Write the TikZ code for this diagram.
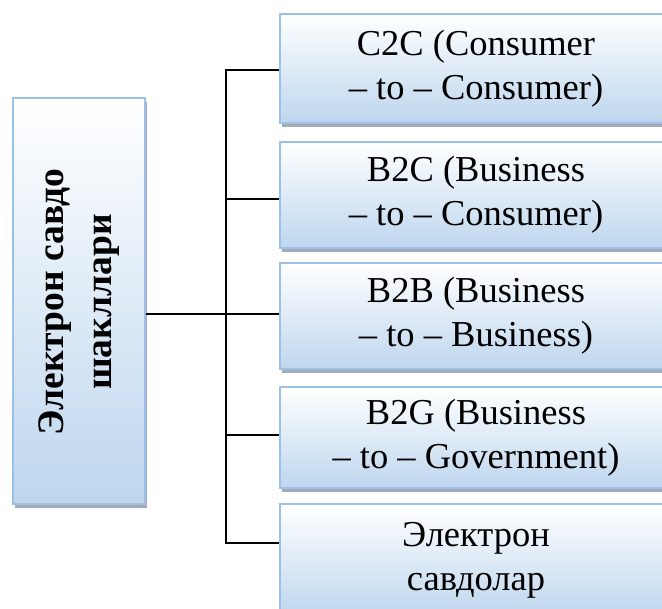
\documentclass[tikz,border=0pt]{standalone}
\usepackage{fontspec}
\setmainfont{Liberation Serif}
\usetikzlibrary{shadows}
\definecolor{boxblue}{RGB}{190,214,238}
\definecolor{boxedge}{RGB}{155,194,230}
\definecolor{shadowgray}{RGB}{140,150,165}
\begin{document}
\begin{tikzpicture}[x=1pt,y=-1pt,
  rbox/.style={draw=boxedge, line width=2pt, top color=white, bottom color=boxblue,
    drop shadow={shadow xshift=2pt, shadow yshift=-4pt, fill=shadowgray, opacity=0.8},
    anchor=north west, inner sep=0pt, align=center,
    font=\fontsize{36.5}{44}\selectfont},
  conn/.style={draw=black, line width=1.5pt}]
\useasboundingbox (0,0) rectangle (662,609);
\node[rbox, minimum width=132pt, minimum height=406pt] (L) at (12,97) {};
\node[rotate=90, align=center, font=\bfseries\fontsize{37.5}{48}\selectfont] (Lt) at (79,302) {Электрон савдо\\шакллари};
\node[rbox, minimum width=392pt, minimum height=109pt] (b1) at (279,13) {C2C (Consumer\\– to – Consumer)};
\node[rbox, minimum width=392pt, minimum height=106pt] (b2) at (279,141) {B2C (Business\\– to – Consumer)};
\node[rbox, minimum width=392pt, minimum height=106pt] (b3) at (279,262) {B2B (Business\\– to – Business)};
\node[rbox, minimum width=392pt, minimum height=101pt] (b4) at (279,386) {B2G (Business\\– to – Government)};
\node[rbox, minimum width=392pt, minimum height=112pt] (b5) at (279,503) {Электрон\\савдолар};
\coordinate (t1) at (226,70);
\coordinate (t2) at (226,199);
\coordinate (t3) at (226,314);
\coordinate (t4) at (226,435);
\coordinate (t5) at (226,543);
\draw[conn] (t1 -| b1.west) -- (t1) -- (t5) -- (t5 -| b5.west);
\draw[conn] (t2) -- (t2 -| b2.west);
\draw[conn] (t3 -| L.east) -- (t3 -| b3.west);
\draw[conn] (t4) -- (t4 -| b4.west);
\end{tikzpicture}
\end{document}
